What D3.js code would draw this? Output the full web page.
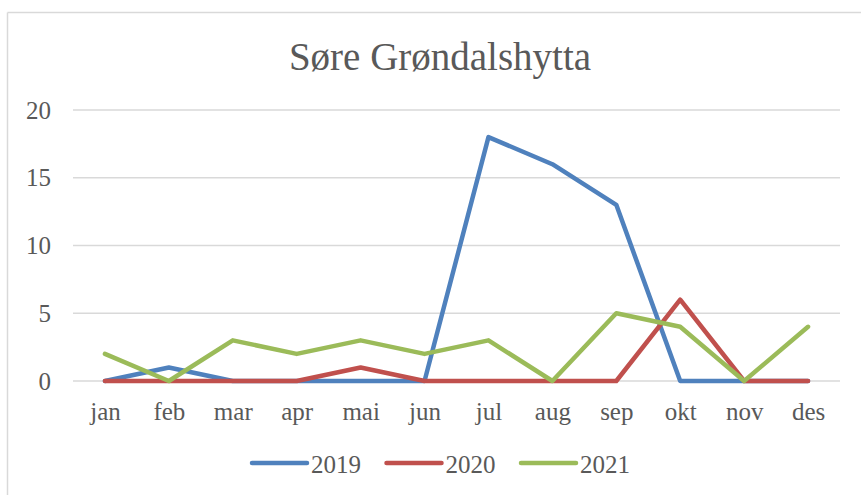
<!DOCTYPE html>
<html>
<head>
<meta charset="utf-8">
<script src="https://cdn.jsdelivr.net/npm/d3@7"></script>
<style>
  body { margin: 0; background: #fff; }
  text { font-family: "Liberation Serif", "DejaVu Serif", serif; fill: #595959; }
</style>
</head>
<body>
<svg width="861" height="495"></svg>
<script>
// data
var months = ["jan", "feb", "mar", "apr", "mai", "jun", "jul", "aug", "sep", "okt", "nov", "des"];
var years = ["2019", "2020", "2021"];
var v2019 = [0, 1, 0, 0, 0, 0, 18, 16, 13, 0, 0, 0];
var v2020 = [0, 0, 0, 0, 1, 0, 0, 0, 0, 6, 0, 0];
var v2021 = [2, 0, 3, 2, 3, 2, 3, 0, 5, 4, 0, 4];
var yTicks = [0, 5, 10, 15, 20];
var colors = ["#4F81BD", "#C0504D", "#9BBB59"];

var svg = d3.select("svg"),
    margin = {top: 110, right: 21, bottom: 114, left: 73},
    width = svg.attr("width") - margin.left - margin.right,
    height = svg.attr("height") - margin.top - margin.bottom;

// chart area border (only top and left show)
svg.append("line").attr("x1", 7.5).attr("x2", 861).attr("y1", 12.5).attr("y2", 12.5)
    .attr("stroke", "#D9D9D9").attr("stroke-width", 1.5);
svg.append("line").attr("x1", 7.5).attr("x2", 7.5).attr("y1", 12.5).attr("y2", 495)
    .attr("stroke", "#D9D9D9").attr("stroke-width", 1.5);

svg.append("text")
    .attr("x", 440).attr("y", 70)
    .attr("text-anchor", "middle")
    .style("font-size", "39px")
    .text("Søre Grøndalshytta");

var g = svg.append("g").attr("transform", "translate(" + margin.left + "," + margin.top + ")");

var x = d3.scalePoint().domain(months).range([0, width]).padding(0.5),
    y = d3.scaleLinear().domain([0, 20]).range([height, 0]);

// gridlines
g.selectAll(".grid")
  .data(yTicks)
  .enter().append("line")
    .attr("class", "grid")
    .attr("x1", 0).attr("x2", width)
    .attr("y1", function(d) { return y(d); })
    .attr("y2", function(d) { return y(d); })
    .attr("stroke", "#D9D9D9")
    .attr("stroke-width", 1.5);

// y axis labels
var yAxis = g.append("g")
    .call(d3.axisLeft(y).tickValues(yTicks).tickSize(0).tickPadding(22));
yAxis.select(".domain").remove();
yAxis.selectAll("text")
    .attr("fill", "#595959")
    .style("font-size", "25px")
    .style("font-family", "Liberation Serif, serif");

// x axis labels
var xAxis = g.append("g")
    .attr("transform", "translate(0," + height + ")")
    .call(d3.axisBottom(x).tickSize(0).tickPadding(21));
xAxis.select(".domain").remove();
xAxis.selectAll("text")
    .attr("fill", "#595959")
    .style("font-size", "25px")
    .style("font-family", "Liberation Serif, serif");

var line = d3.line()
    .x(function(d, i) { return x(months[i]); })
    .y(function(d) { return y(d); });

var series = [v2019, v2020, v2021];

g.selectAll(".series")
  .data(series)
  .enter().append("path")
    .attr("class", "series")
    .attr("d", line)
    .attr("fill", "none")
    .attr("stroke", function(d, i) { return colors[i]; })
    .attr("stroke-width", 4.5)
    .attr("stroke-linecap", "round")
    .attr("stroke-linejoin", "round");

// legend
var legend = svg.selectAll(".legend")
  .data(years)
  .enter().append("g")
    .attr("class", "legend")
    .attr("transform", function(d, i) { return "translate(" + (252 + i * 134.5) + ",463)"; });

legend.append("line")
    .attr("x1", 0).attr("x2", 55)
    .attr("stroke", function(d, i) { return colors[i]; })
    .attr("stroke-width", 4.5)
    .attr("stroke-linecap", "round");

legend.append("text")
    .attr("x", 59).attr("y", 9.5)
    .style("font-size", "25px")
    .text(function(d) { return d; });
</script>
</body>
</html>
